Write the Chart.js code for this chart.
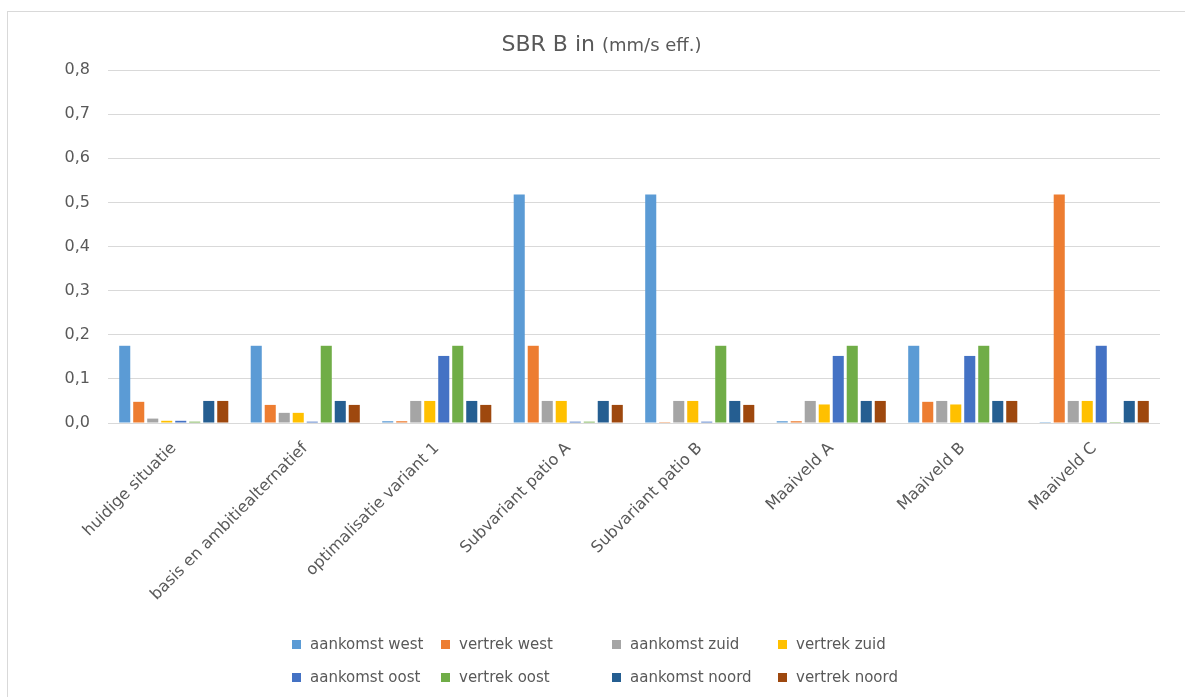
<!DOCTYPE html>
<html lang="nl">
<head>
<meta charset="utf-8">
<title>SBR B in (mm/s eff.)</title>
<script src="https://cdn.jsdelivr.net/npm/chart.js@4.4.1/dist/chart.umd.min.js"></script>
<style>
  html, body { margin: 0; padding: 0; background: #fff; }
  body { width: 1185px; height: 697px; position: relative; overflow: hidden;
         font-family: "DejaVu Sans", sans-serif; color: #595959; }
  #frame { position: absolute; left: 7px; top: 11px; width: 1300px; height: 800px;
           border-left: 1px solid #d9d9d9; border-top: 1px solid #d9d9d9; }
  #wrap { position: absolute; left: 0; top: 0; width: 1185px; height: 697px; }
  #title { position: absolute; left: 0; width: 1203px; top: 31px; text-align: center;
           white-space: nowrap; color: #595959; }
  #title .main { font-size: 22px; }
  #title .unit { font-size: 18px; }
  #legend { position: absolute; left: 0; top: 0; }
  .item { position: absolute; display: flex; align-items: center; font-size: 15px;
          white-space: nowrap; line-height: 1; }
  .item i { display: inline-block; width: 9px; height: 9px; margin-right: 9px; }
</style>
</head>
<body>
<div id="frame"></div>
<div id="wrap"><canvas id="c" width="1185" height="697"></canvas></div>
<div id="title"><span class="main">SBR B in </span><span class="unit">(mm/s eff.)</span></div>
<div id="legend"></div>
<script>
// Varianten langs de x-as
const categories = [
  "huidige situatie",
  "basis en ambitiealternatief",
  "optimalisatie variant 1",
  "Subvariant patio A",
  "Subvariant patio B",
  "Maaiveld A",
  "Maaiveld B",
  "Maaiveld C"
];

// SBR B trillingswaarden (mm/s eff.) per richting
const aankomstWest  = [0.175, 0.175, 0.004, 0.518, 0.518, 0.004, 0.175, 0.002];
const vertrekWest   = [0.048, 0.041, 0.004, 0.175, 0.002, 0.004, 0.048, 0.518];
const aankomstZuid  = [0.010, 0.023, 0.050, 0.050, 0.050, 0.050, 0.050, 0.050];
const vertrekZuid   = [0.005, 0.023, 0.050, 0.050, 0.050, 0.042, 0.042, 0.050];
const aankomstOost  = [0.005, 0.003, 0.152, 0.003, 0.003, 0.152, 0.152, 0.175];
const vertrekOost   = [0.003, 0.175, 0.175, 0.003, 0.175, 0.175, 0.175, 0.002];
const aankomstNoord = [0.050, 0.050, 0.050, 0.050, 0.050, 0.050, 0.050, 0.050];
const vertrekNoord  = [0.050, 0.041, 0.041, 0.041, 0.041, 0.050, 0.050, 0.050];

const seriesNames = [
  "aankomst west", "vertrek west", "aankomst zuid", "vertrek zuid",
  "aankomst oost", "vertrek oost", "aankomst noord", "vertrek noord"
];
const seriesValues = [
  aankomstWest, vertrekWest, aankomstZuid, vertrekZuid,
  aankomstOost, vertrekOost, aankomstNoord, vertrekNoord
];
const seriesColors = [
  "#5B9BD5", "#ED7D31", "#A5A5A5", "#FFC000",
  "#4472C4", "#70AD47", "#255E91", "#9E480E"
];

// y-as: 0,0 t/m 0,8
const yMin = 0, yMax = 0.8, yStep = 0.1;

const textColor = "#595959";
const gridColor = "#d9d9d9";

const datasets = seriesNames.map((name, i) => ({
  label: name,
  data: seriesValues[i],
  backgroundColor: seriesColors[i],
  borderWidth: 0,
  categoryPercentage: 0.852,
  barPercentage: 0.79
}));

new Chart(document.getElementById("c"), {
  type: "bar",
  data: { labels: categories, datasets },
  options: {
    responsive: false,
    animation: false,
    layout: { padding: { left: 0, top: 70, right: 25, bottom: 0 } },
    plugins: { legend: { display: false }, title: { display: false }, tooltip: { enabled: false } },
    scales: {
      x: {
        grid: { display: false },
        border: { display: false },
        ticks: {
          color: textColor,
          font: { family: "DejaVu Sans", size: 16 },
          minRotation: 45, maxRotation: 45,
          autoSkip: false,
          padding: 8
        },
        afterFit: s => { s.height = 274; }
      },
      y: {
        min: yMin, max: yMax,
        grid: { color: gridColor, lineWidth: 1, drawTicks: false },
        border: { display: false },
        ticks: {
          stepSize: yStep,
          color: textColor,
          font: { family: "DejaVu Sans", size: 16 },
          padding: 18,
          callback: v => v.toFixed(1).replace(".", ",")
        },
        afterFit: s => { s.width = 108; }
      }
    }
  }
});

// Legenda in twee rijen met uitgelijnde kolommen
const legendCols = [292, 441, 612, 778];
const legendRows = [645, 678];
const legend = document.getElementById("legend");
seriesNames.forEach((name, i) => {
  const el = document.createElement("div");
  el.className = "item";
  el.style.left = legendCols[i % 4] + "px";
  el.style.top = (legendRows[Math.floor(i / 4)] - 8) + "px";
  el.innerHTML = '<i style="background:' + seriesColors[i] + '"></i>' + name;
  legend.appendChild(el);
});
</script>
</body>
</html>
